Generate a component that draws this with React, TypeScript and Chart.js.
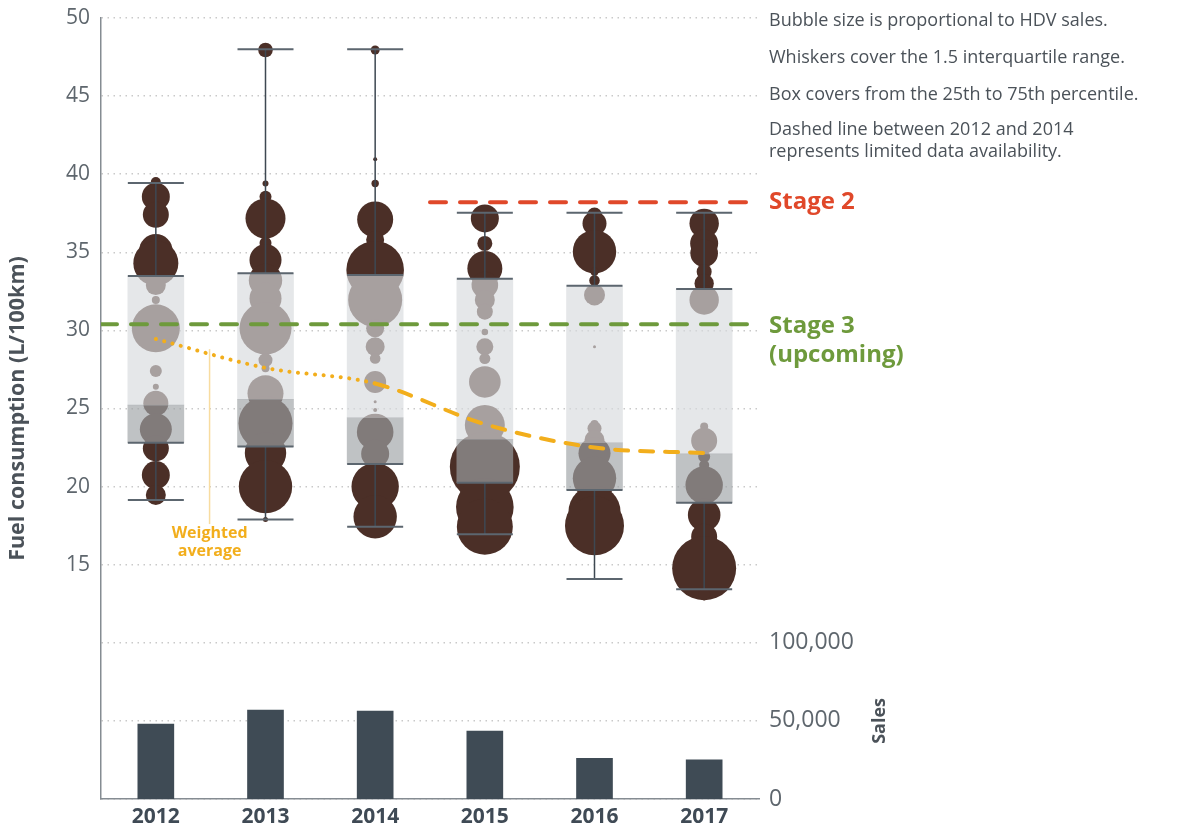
import { useEffect, useRef } from 'react';
import { Chart, registerables } from 'chart.js';

Chart.register(...registerables);

const FONT = '"Open Sans", "Noto Sans", sans-serif';

const years = ['2012', '2013', '2014', '2015', '2016', '2017'];
const sales = [48000, 57000, 56300, 43500, 26000, 25000];
const whiskerLow = [19.14, 17.9, 17.43, 16.95, 14.08, 13.43];
const whiskerHigh = [39.44, 48.0, 48.0, 37.54, 37.54, 37.54];
const q1 = [22.81, 22.56, 21.45, 20.25, 19.78, 18.97];
const median = [25.22, 25.59, 24.41, 23.03, 22.81, 22.09];
const q3 = [33.48, 33.66, 33.55, 33.3, 32.86, 32.65];
const weightedAvg = [29.45, 27.6, 26.6, 24.0, 22.5, 22.15];
const stage2Value = 38.2;
const stage2Range = [2.5, 5.5];
const stage3Value = 30.4;
const stage3Range = [-0.5, 5.5];
const fuelTicks = [15, 20, 25, 30, 35, 40, 45, 50];
const salesTicks = [0, 50000, 100000];

// [fuel consumption, bubble radius]
const bubbles2012: [number, number][] = [
  [39.5, 5], [38.56, 14], [37.4, 13], [35.1, 16.7], [34.3, 22.5], [32.9, 10], [31.95, 4],
  [30.13, 24], [27.4, 6], [26.4, 3], [25.33, 12.5], [23.67, 16], [22.45, 13], [20.74, 14], [19.46, 10],
];
const bubbles2013: [number, number][] = [
  [47.95, 7.3], [39.4, 3], [38.56, 6], [37.17, 20], [35.6, 6], [34.5, 16], [33.2, 16.7], [32.05, 16],
  [30.13, 26], [28.1, 7], [27.57, 4], [26.6, 5], [25.97, 18], [24.05, 27], [22.15, 20.7], [20.0, 26.7], [17.9, 2.5],
];
const bubbles2014: [number, number][] = [
  [47.95, 4.5], [40.95, 2], [39.4, 3.7], [37.1, 18], [35.8, 9], [33.87, 28.8], [31.95, 27], [30.13, 9],
  [28.96, 9.5], [28.2, 5.3], [26.7, 11], [25.43, 1.5], [24.9, 2], [23.5, 18.3], [22.1, 14], [20.0, 23.7], [18.07, 21.7],
];
const bubbles2015: [number, number][] = [
  [37.17, 14], [35.57, 7.5], [33.97, 17.5], [32.9, 13.3], [31.95, 10], [31.2, 8], [29.9, 3.3], [28.96, 8.5],
  [28.2, 5.5], [26.7, 15.8], [23.94, 20], [21.27, 35], [18.7, 28.8], [17.43, 28],
];
const bubbles2016: [number, number][] = [
  [37.39, 7.5], [36.85, 12], [35.04, 21.7], [33.76, 4], [33.2, 5.3], [32.27, 10.5], [28.96, 1.5], [24.0, 4],
  [23.73, 7], [22.98, 10], [22.13, 16], [20.53, 21.7], [18.4, 26], [17.5, 29.5],
];
const bubbles2017: [number, number][] = [
  [36.85, 14.7], [35.57, 14], [34.94, 13.8], [33.76, 7.5], [33.0, 9.7], [31.95, 14.7], [23.84, 4], [22.94, 13],
  [21.92, 6], [21.38, 5], [20.1, 18.7], [18.18, 16.3], [16.79, 13], [14.77, 32], [13.1, 6],
];
const bubbleSets = [bubbles2012, bubbles2013, bubbles2014, bubbles2015, bubbles2016, bubbles2017];

const notes = [
  'Bubble size is proportional to HDV sales.',
  'Whiskers cover the 1.5 interquartile range.',
  'Box covers from the 25th to 75th percentile.',
  'Dashed line between 2012 and 2014',
  'represents limited data availability.',
];

const overlayPlugin = {
  id: 'overlay',
  afterDatasetsDraw(chart: any) {
    const { ctx, scales } = chart;
    const x = scales.x;
    const y = scales.y;
    ctx.save();
    for (let i = 0; i < years.length; i++) {
      const cx = x.getPixelForValue(i);
      const half = 28;
      ctx.strokeStyle = '#3e4852';
      ctx.lineWidth = 1.5;
      ctx.beginPath();
      ctx.moveTo(cx, y.getPixelForValue(whiskerHigh[i]));
      ctx.lineTo(cx, y.getPixelForValue(q3[i]));
      ctx.moveTo(cx, y.getPixelForValue(q1[i]));
      ctx.lineTo(cx, y.getPixelForValue(whiskerLow[i]));
      ctx.stroke();
      ctx.strokeStyle = '#5c666f';
      ctx.lineWidth = 2;
      ctx.beginPath();
      for (const v of [whiskerHigh[i], whiskerLow[i], q3[i], q1[i]]) {
        const py = y.getPixelForValue(v);
        ctx.moveTo(cx - half, py);
        ctx.lineTo(cx + half, py);
      }
      ctx.stroke();
    }
    ctx.restore();
  },
  afterDraw(chart: any) {
    const { ctx, scales, chartArea } = chart;
    const x = scales.x;
    const y = scales.y;
    const ySales = scales.ySales;
    ctx.save();
    // weighted average label
    const lx = x.getPixelForValue(0.49);
    ctx.strokeStyle = '#f8dca0';
    ctx.lineWidth = 1.5;
    ctx.beginPath();
    ctx.moveTo(lx, y.getPixelForValue(28.8));
    ctx.lineTo(lx, y.getPixelForValue(17.6));
    ctx.stroke();
    ctx.fillStyle = '#f2ae1c';
    ctx.font = `bold 16px ${FONT}`;
    ctx.textAlign = 'center';
    ctx.textBaseline = 'middle';
    ctx.fillText('Weighted', lx, y.getPixelForValue(17.0));
    ctx.fillText('average', lx, y.getPixelForValue(15.85));

    // notes
    const tx = chartArea.right + 10;
    ctx.textAlign = 'left';
    ctx.fillStyle = '#4b5259';
    ctx.font = `18px ${FONT}`;
    const noteY = [21, 58, 95, 130, 152];
    notes.forEach((t, i) => ctx.fillText(t, tx, noteY[i]));

    ctx.font = `bold 24px ${FONT}`;
    ctx.fillStyle = '#e0482a';
    ctx.fillText('Stage 2', tx, y.getPixelForValue(stage2Value));
    ctx.fillStyle = '#6e9a3c';
    ctx.fillText('Stage 3', tx, y.getPixelForValue(stage3Value) + 2);
    ctx.fillText('(upcoming)', tx, y.getPixelForValue(stage3Value) + 31);

    // sales title
    ctx.save();
    ctx.translate(880, ySales.getPixelForValue(50000));
    ctx.rotate(-Math.PI / 2);
    ctx.textAlign = 'center';
    ctx.fillStyle = '#4b5259';
    ctx.font = `bold 18px ${FONT}`;
    ctx.fillText('Sales', 0, 0);
    ctx.restore();
    ctx.restore();
  },
};

export default function App() {
  const ref = useRef<HTMLCanvasElement | null>(null);
  useEffect(() => {
    if (!ref.current) return;
    const bubblePoints = bubbleSets.flatMap((set, i) => set.map(([v, r]) => ({ x: i, y: v, r })));
    const chart = new Chart(ref.current, {
      type: 'bar',
      data: {
        datasets: [
          {
            type: 'bubble',
            data: bubblePoints,
            backgroundColor: '#4b2f27',
            borderWidth: 0,
            hoverRadius: 0,
            order: 10,
            xAxisID: 'x',
            yAxisID: 'y',
          } as any,
          {
            type: 'bar',
            data: years.map((_, i) => ({ x: i, y: [q1[i], median[i]] })),
            backgroundColor: 'rgba(158,162,166,0.66)',
            barThickness: 56,
            grouped: false,
            order: 5,
            xAxisID: 'x',
            yAxisID: 'y',
          } as any,
          {
            type: 'bar',
            data: years.map((_, i) => ({ x: i, y: [median[i], q3[i]] })),
            backgroundColor: 'rgba(216,218,221,0.66)',
            barThickness: 56,
            grouped: false,
            order: 5,
            xAxisID: 'x',
            yAxisID: 'y',
          } as any,
          {
            type: 'bar',
            data: sales.map((v, i) => ({ x: i, y: v })),
            backgroundColor: '#3f4b55',
            barThickness: 36,
            grouped: false,
            order: 5,
            xAxisID: 'x',
            yAxisID: 'ySales',
          } as any,
          {
            type: 'line',
            data: stage3Range.map((xv) => ({ x: xv, y: stage3Value })),
            borderColor: '#6e9a3c',
            borderWidth: 4,
            borderDash: [16, 14],
            borderCapStyle: 'round',
            pointRadius: 0,
            order: 2,
            xAxisID: 'x',
            yAxisID: 'y',
          } as any,
          {
            type: 'line',
            data: stage2Range.map((xv) => ({ x: xv, y: stage2Value })),
            borderColor: '#e0482a',
            borderWidth: 4,
            borderDash: [16, 14],
            borderCapStyle: 'round',
            pointRadius: 0,
            order: 2,
            xAxisID: 'x',
            yAxisID: 'y',
          } as any,
          {
            type: 'line',
            data: weightedAvg.map((v, i) => ({ x: i, y: v })),
            borderColor: '#f2ae1c',
            borderWidth: 4,
            borderCapStyle: 'round',
            cubicInterpolationMode: 'monotone',
            segment: {
              borderDash: (c: any) => (c.p0DataIndex < 2 ? [0.1, 8.5] : [13, 12]),
            },
            pointRadius: 0,
            order: 1,
            xAxisID: 'x',
            yAxisID: 'y',
          } as any,
        ],
      },
      options: {
        animation: false,
        responsive: true,
        maintainAspectRatio: false,
        layout: { autoPadding: false, padding: { top: 18, left: 0, right: 0, bottom: 0 } },
        plugins: { legend: { display: false }, tooltip: { enabled: false } },
        events: [],
        scales: {
          x: {
            type: 'linear',
            offset: false,
            min: -0.5,
            max: 5.5,
            afterBuildTicks: (s: any) => {
              s.ticks = years.map((_, i) => ({ value: i }));
            },
            afterFit: (s: any) => {
              s.height = 35;
              s.paddingLeft = 0;
              s.paddingRight = 0;
            },
            ticks: {
              callback: (v: any) => years[v] ?? '',
              font: { family: FONT, size: 21, weight: 'bold' },
              color: '#3f4a55',
              padding: 5,
              autoSkip: false,
              maxRotation: 0,
            },
            grid: { display: false, drawTicks: false },
            border: { color: '#858c92', width: 1.5 },
          },
          y: {
            position: 'left',
            min: 0,
            max: 50,
            afterBuildTicks: (s: any) => {
              s.ticks = [0, 5, 10, ...fuelTicks].map((v) => ({ value: v }));
            },
            afterFit: (s: any) => {
              s.width = 101;
              s.paddingTop = 0;
              s.paddingBottom = 0;
            },
            ticks: {
              callback: (v: any) => (fuelTicks.includes(v) ? String(v) : ''),
              font: { family: FONT, size: 21 },
              color: '#5e666d',
              padding: 11,
            },
            grid: { color: '#c9c9c9', lineWidth: 1.5, drawTicks: false },
            border: { color: '#858c92', width: 1.5, dash: [1.5, 4.5] },
            title: {
              display: true,
              text: 'Fuel consumption (L/100km)',
              font: { family: FONT, size: 21.5, weight: 'bold' },
              color: '#4b5259',
              padding: { top: 5, bottom: 0 },
            },
          },
          ySales: {
            position: 'right',
            min: 0,
            max: 500000,
            afterBuildTicks: (s: any) => {
              s.ticks = salesTicks.map((v) => ({ value: v }));
            },
            afterFit: (s: any) => {
              s.width = 421;
              s.paddingTop = 0;
              s.paddingBottom = 0;
            },
            ticks: {
              callback: (v: any) => Number(v).toLocaleString('en-US'),
              font: { family: FONT, size: 23 },
              color: '#5e666d',
              padding: 10,
            },
            grid: { display: false, drawTicks: false },
            border: { display: false },
          },
        },
      } as any,
      plugins: [overlayPlugin],
    });
    return () => chart.destroy();
  }, []);
  return (
    <div style={{ position: 'absolute', left: 0, top: 0, width: 1180, height: 834 }}>
      <canvas ref={ref} />
    </div>
  );
}
